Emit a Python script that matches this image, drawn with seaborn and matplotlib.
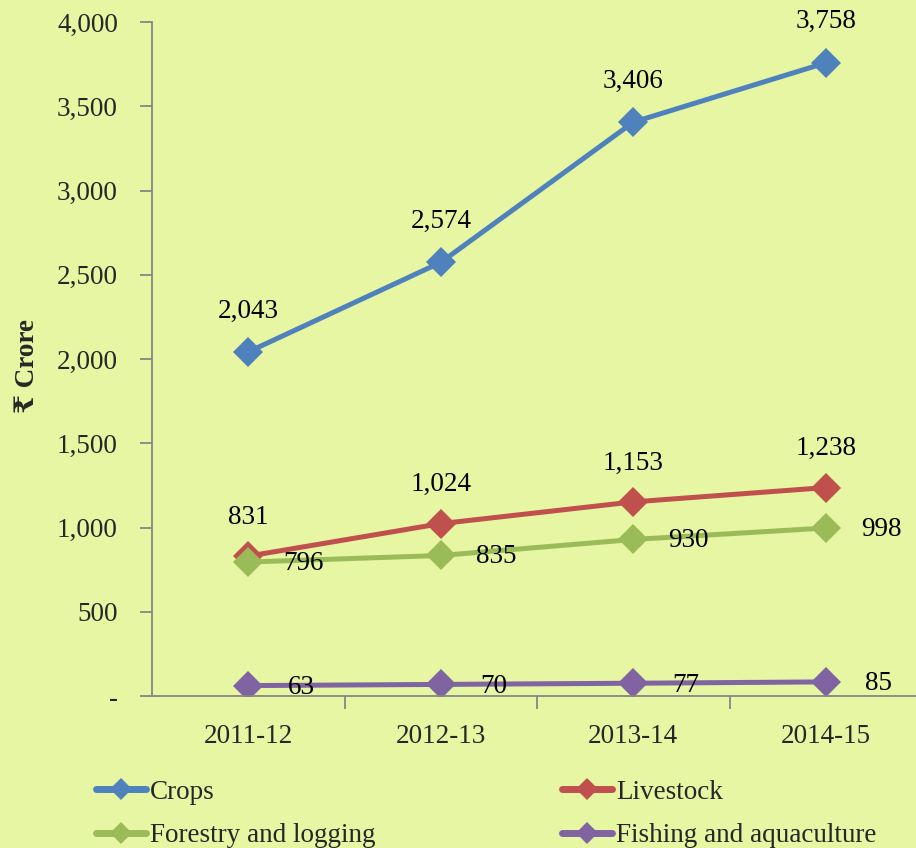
import matplotlib
matplotlib.use("Agg")
import matplotlib.pyplot as plt
import pandas as pd
import seaborn as sns

years = ["2011-12", "2012-13", "2013-14", "2014-15"]
crops = [2043, 2574, 3406, 3758]
livestock = [831, 1024, 1153, 1238]
forestry = [796, 835, 930, 998]
fishing = [63, 70, 77, 85]

series_names = ["Crops", "Livestock", "Forestry and logging", "Fishing and aquaculture"]
series_values = [crops, livestock, forestry, fishing]
colors = ["#4F81BD", "#C0504D", "#9BBB59", "#8064A2"]

BG = "#e6f6a3"
FS = 19.5

sns.set_theme(style="white")
plt.rcParams["font.family"] = ["Liberation Serif", "DejaVu Serif", "DejaVu Sans"]

rows = []
for name, vals in zip(series_names, series_values):
    for i, (yr, v) in enumerate(zip(years, vals)):
        rows.append({"year": yr, "x": i, "value": v, "series": name})
df = pd.DataFrame(rows)

fig = plt.figure(figsize=(9.16, 8.48), dpi=100, facecolor=BG)
ax = fig.add_axes([0.166, 0.179, 0.8406, 0.795])
ax.set_facecolor(BG)

sns.lineplot(data=df, x="x", y="value", hue="series", hue_order=series_names,
             palette=colors, style="series", markers=["D"] * 4, dashes=False,
             linewidth=3.6, markersize=15, markeredgewidth=0, ax=ax, legend=True)

# value labels; offsets per series (points)
offsets = {
    "Crops": (0, 29.5),
    "Livestock": (0, 28),
    "Forestry and logging": (40, -1),
    "Fishing and aquaculture": (38, -1.5),
}
for name, vals in zip(series_names, series_values):
    dx, dy = offsets[name]
    for i, v in enumerate(vals):
        ax.annotate(f"{v:,}", (i, v), xytext=(dx, dy), textcoords="offset points",
                    ha="center", va="center", fontsize=FS, color="black",
                    annotation_clip=False)

ax.set_xlim(-0.5, 3.5)
ax.set_ylim(0, 4000)
ax.set_yticks(range(0, 4001, 500))
ax.set_yticklabels(["-"] + [f"{v:,}" for v in range(500, 4001, 500)])
ax.set_xticks([0, 1, 2, 3])
ax.set_xticklabels(years)
ax.set_xticks([0.5, 1.5, 2.5], minor=True)
ax.tick_params(axis="x", which="major", bottom=False, length=0, pad=20, labelsize=FS)
ax.tick_params(axis="x", which="minor", bottom=True, length=9, color="#868686",
               width=1.3, direction="out")
ax.tick_params(axis="y", left=True, length=8.6, color="#868686", width=1.3,
               direction="out", labelsize=FS, pad=16)
ax.set_xlabel("")
ax.set_ylabel("₹ Crore", fontsize=FS, fontweight="bold")
ax.yaxis.set_label_coords(-0.145, 0.49)
for s in ["top", "right"]:
    ax.spines[s].set_visible(False)
for s in ["left", "bottom"]:
    ax.spines[s].set_color("#868686")
    ax.spines[s].set_linewidth(1.3)

handles, labels = ax.get_legend_handles_labels()
lookup = dict(zip(labels, handles))
order = ["Crops", "Forestry and logging", "Livestock", "Fishing and aquaculture"]
leg = ax.legend([lookup[k] for k in order], order, loc="upper left",
                bbox_to_anchor=(-0.105, -0.088), ncol=2, frameon=False, fontsize=FS,
                handlelength=1.85, handletextpad=0.15, columnspacing=6.9,
                labelspacing=0.68)
for h in leg.legend_handles:
    h.set_linewidth(5)
    h.set_markersize(11)

fig.savefig("out.png", facecolor=BG)
